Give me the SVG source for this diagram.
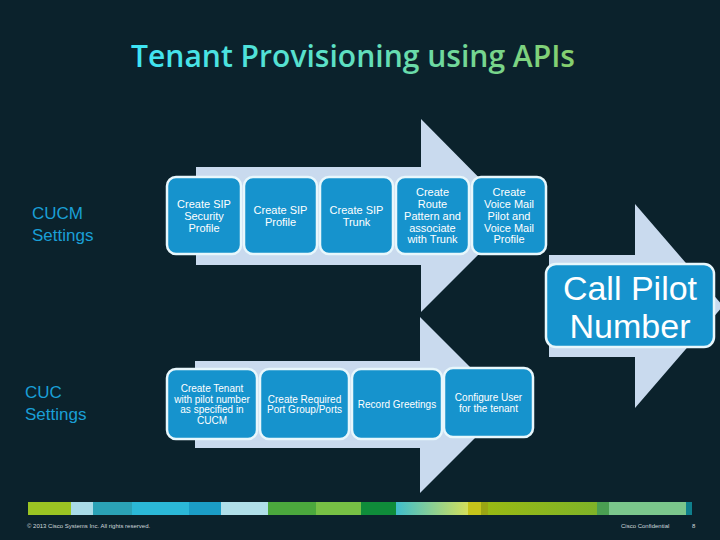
<svg xmlns="http://www.w3.org/2000/svg" width="720" height="540" viewBox="0 0 720 540">
<defs>
<linearGradient id="tg" x1="0" y1="0" x2="1" y2="0">
<stop offset="0" stop-color="#3ee4f6"/>
<stop offset="0.5" stop-color="#5fe0c0"/>
<stop offset="1" stop-color="#86cf6c"/>
</linearGradient>
<linearGradient id="g1" x1="0" y1="0" x2="1" y2="0">
<stop offset="0" stop-color="#3fbdcc"/>
<stop offset="1" stop-color="#d3df5c"/>
</linearGradient>
<linearGradient id="g2" x1="0" y1="0" x2="1" y2="0">
<stop offset="0" stop-color="#98b914"/>
<stop offset="1" stop-color="#7fb328"/>
</linearGradient>
</defs>
<style>
.arrow{fill:#c9daee}
.box{fill:#1693cd;stroke:#e8f7fc;stroke-width:2.5}
.bt{fill:#ffffff;font-family:"Liberation Sans",Arial,sans-serif;font-size:11px;text-anchor:middle}
.bs{fill:#ffffff;font-family:"Liberation Sans",Arial,sans-serif;font-size:10px;text-anchor:middle}
.lab{fill:#1a9fd6;font-family:"Liberation Sans",Arial,sans-serif;font-size:17px}
.ft{fill:#d0d8dc;font-family:"Liberation Sans",Arial,sans-serif;font-size:6px}
</style>
<rect width="720" height="540" fill="#0b222c"/>
<text x="131" y="67" font-family="'Open Sans','Noto Sans',sans-serif" font-weight="600" font-size="30" fill="url(#tg)" textLength="444" lengthAdjust="spacingAndGlyphs">Tenant Provisioning using APIs</text>

<g id="arrows">
<polygon class="arrow" points="196,167 421,167 421,119 517,216 421,312 421,265 196,265"/>
<polygon class="arrow" points="195,361 420,361 420,317 508,405 420,493 420,448 195,448"/>
<polygon class="arrow" points="549,255 635,255 635,204 723,306 635,408 635,357 549,357"/>
</g>

<g id="label-cucm"><text class="lab" x="32" y="219">CUCM</text><text class="lab" x="32" y="241">Settings</text></g>
<g id="label-cuc"><text class="lab" x="25" y="398">CUC</text><text class="lab" x="25" y="420">Settings</text></g>

<g id="n1"><rect class="box" x="167" y="177" width="74" height="77" rx="9"/>
<text class="bt" x="204" y="208">Create SIP</text><text class="bt" x="204" y="220">Security</text><text class="bt" x="204" y="232">Profile</text></g>
<g id="n2"><rect class="box" x="244" y="177" width="73" height="77" rx="9"/>
<text class="bt" x="280.5" y="214">Create SIP</text><text class="bt" x="280.5" y="226">Profile</text></g>
<g id="n3"><rect class="box" x="320" y="177" width="73" height="77" rx="9"/>
<text class="bt" x="356.5" y="214">Create SIP</text><text class="bt" x="356.5" y="226">Trunk</text></g>
<g id="n4"><rect class="box" x="396" y="177" width="73" height="77" rx="9"/>
<text class="bt" x="432.5" y="196">Create</text><text class="bt" x="432.5" y="208">Route</text><text class="bt" x="432.5" y="220">Pattern and</text><text class="bt" x="432.5" y="232">associate</text><text class="bt" x="432.5" y="243">with Trunk</text></g>
<g id="n5"><rect class="box" x="472" y="177" width="74" height="77" rx="9"/>
<text class="bt" x="509" y="196">Create</text><text class="bt" x="509" y="208">Voice Mail</text><text class="bt" x="509" y="220">Pilot and</text><text class="bt" x="509" y="232">Voice Mail</text><text class="bt" x="509" y="243">Profile</text></g>

<g id="n-call"><rect class="box" x="546" y="264" width="168" height="83" rx="10"/>
<text x="630" y="300" fill="#ffffff" font-family="'Liberation Sans',Arial,sans-serif" font-size="34" text-anchor="middle">Call Pilot</text>
<text x="630" y="338" fill="#ffffff" font-family="'Liberation Sans',Arial,sans-serif" font-size="34" text-anchor="middle">Number</text></g>

<g id="m1"><rect class="box" x="167" y="369" width="90" height="70" rx="9"/>
<text class="bs" x="212" y="392">Create Tenant</text><text class="bs" x="212" y="403">with pilot number</text><text class="bs" x="212" y="413">as specified in</text><text class="bs" x="212" y="424">CUCM</text></g>
<g id="m2"><rect class="box" x="260" y="369" width="89" height="70" rx="9"/>
<text class="bs" x="304.5" y="403">Create Required</text><text class="bs" x="304.5" y="413">Port Group/Ports</text></g>
<g id="m3"><rect class="box" x="352" y="369" width="90" height="70" rx="9"/>
<text class="bs" x="397" y="408">Record Greetings</text></g>
<g id="m4"><rect class="box" x="444" y="368" width="89" height="69" rx="9"/>
<text class="bs" x="488.5" y="401">Configure User</text><text class="bs" x="488.5" y="412">for the tenant</text></g>

<g id="bar">
<rect x="28" y="502" width="43" height="13" fill="#9bc423"/>
<rect x="71" y="502" width="22" height="13" fill="#a9dbe8"/>
<rect x="93" y="502" width="39" height="13" fill="#2ba2b6"/>
<rect x="132" y="502" width="57" height="13" fill="#2bb8d7"/>
<rect x="189" y="502" width="32" height="13" fill="#1b9dc6"/>
<rect x="221" y="502" width="47" height="13" fill="#b0dfe9"/>
<rect x="268" y="502" width="48" height="13" fill="#4ba83d"/>
<rect x="316" y="502" width="45" height="13" fill="#77c045"/>
<rect x="361" y="502" width="35" height="13" fill="#0f8c3a"/>
<rect x="396" y="502" width="72" height="13" fill="url(#g1)"/>
<rect x="468" y="502" width="13" height="13" fill="#c5c41b"/>
<rect x="481" y="502" width="7" height="13" fill="#9aa513"/>
<rect x="488" y="502" width="109" height="13" fill="url(#g2)"/>
<rect x="597" y="502" width="12" height="13" fill="#4a9f52"/>
<rect x="609" y="502" width="77" height="13" fill="#7bc68c"/>
<rect x="686" y="502" width="6" height="13" fill="#0f7f8c"/>
</g>
<text class="ft" x="27" y="528">© 2013 Cisco Systems Inc. All rights reserved.</text>
<text class="ft" x="621" y="528">Cisco Confidential</text>
<text class="ft" x="692" y="528">8</text>
</svg>
